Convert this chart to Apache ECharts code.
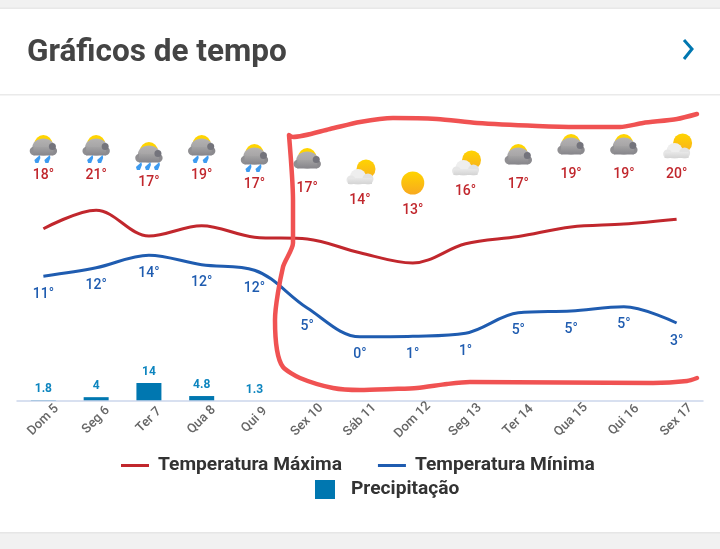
<!DOCTYPE html>
<html><head><meta charset="utf-8">
<style>html,body{margin:0;padding:0;background:#f1f1f1}#c{width:720px;height:549px}</style>
<script src="https://cdn.jsdelivr.net/npm/echarts@6/dist/echarts.min.js"></script>
</head><body><div id="c"></div>
<script>
const categories = ['Dom 5','Seg 6','Ter 7','Qua 8','Qui 9','Sex 10','Sáb 11','Dom 12','Seg 13','Ter 14','Qua 15','Qui 16','Sex 17'];
const maxLine = [18.7,21.8,17.5,19.2,17.3,17,14.7,13,16.2,17.4,19,19.5,20.3];
const minLine = [10.8,12.2,14.3,12.7,11.8,5.5,0.7,0.8,1.3,4.7,5,5.7,3];
const maxLabels = [18,21,17,19,17,17,14,13,16,17,19,19,20];
const minLabels = [11,12,14,12,12,5,0,1,1,5,5,5,3];
const precipitation = [1.8,4,14,4.8,1.3,null,null,null,null,null,null,null,null];
const iconLevel = [226,226,219,226,217,213,201,191,210,217,227,227,227];
const iconKind = ['rain2','rain2','rain3','rain2','rain2','cloud','part','sun','part','cloud','cloud','cloud','part'];
const markerX = [697,677,643,620,577,537,477,437,393,360,330,293,289,293,293,283,275,277,283,300,333,360,393,417,447,470,653,687,697];
const markerY = [114,119,123,127,127,126,123,119,118,122,129,137,135,200,243,267,320,350,367,378,388,390,389,388,384,382,383,381,378];

const AXIS = '#ccd6eb', RED = '#c1272d', BLUE = '#1f5cb0', BAR = '#0077b0';
const FONT = 'Roboto';
const grad = (a,b) => ({type:'linear',x:0,y:0,x2:0,y2:1,colorStops:[{offset:0,color:a},{offset:1,color:b}]});
const circle = (cx,cy,r,fill) => ({type:'circle',shape:{cx,cy,r},style:{fill}});

function cloud(x,y){
  return [
    {type:'ellipse',shape:{cx:x,cy:y-28,rx:11,ry:8.5},style:{fill:grad('#b4b2b2','#9a999b')}},
    circle(x-9.5,y-24,4.2,'#908f92'),
    circle(x+9.5,y-24,4.2,'#8b8a8e'),
    {type:'rect',shape:{x:x-10,y:y-28,width:20,height:8.5},style:{fill:grad('#a3a2a3','#86858a')}},
    circle(x+9,y-28.5,3.5,'#74747c')
  ];
}
function drop(x,y){
  return {type:'polygon',shape:{points:[[x+2.5,y],[x+3,y+3],[x+1,y+8],[x-2,y+8],[x-3,y+5]]},style:{fill:'#3d9bf0'}};
}
function icon(kind,x,y){
  if(kind==='sun') return [circle(x,y-27,11.5,grad('#ffd400','#f8a91f'))];
  if(kind==='part'){
    return [
      circle(x+6,y-31,9.5,grad('#ffd400','#f8b01f')),
      circle(x-2,y-23,8,'#eeeeee'),
      circle(x-9,y-20,4.5,'#e6e6e6'),
      circle(x+8,y-21,5.5,'#e2e2e2'),
      {type:'rect',shape:{x:x-12,y:y-22,width:24,height:6},style:{fill:grad('#e8e8e8','#d4d4d4')}}
    ];
  }
  const els = [circle(x,y-31,9,'#ffd400')].concat(cloud(x,y));
  if(kind==='rain2'){ els.push(drop(x-6,y-20),drop(x+4,y-20)); }
  if(kind==='rain3'){ els.push(drop(x-10,y-20),drop(x-1,y-20),drop(x+8,y-20)); }
  return els;
}

const chart = echarts.init(document.getElementById('c'),null,{renderer:'canvas'});
chart.setOption({
  animation:false,
  backgroundColor:'#f1f1f1',
  title:{text:'Gráficos de tempo',left:22,top:32,textStyle:{fontFamily:FONT,fontSize:31.5,fontWeight:'bold',color:'#444'}},
  graphic:[
    {type:'rect',silent:true,z:-10,shape:{x:0,y:9,width:720,height:523},style:{fill:'#fff'}},
    {type:'rect',silent:true,z:-9,shape:{x:0,y:94,width:720,height:1.5},style:{fill:'#eaeaea'}},
    {type:'rect',silent:true,z:-9,shape:{x:0,y:7.5,width:720,height:1.5},style:{fill:'#e8e8e8'}},
    {type:'rect',silent:true,z:-9,shape:{x:0,y:532,width:720,height:1.5},style:{fill:'#e6e6e6'}},
    {type:'polyline',silent:true,shape:{points:[[684,40],[692,49],[684,59]]},style:{stroke:BAR,lineWidth:3,fill:null}}
  ],
  legend:[
    {left:116,top:451,itemWidth:28,itemHeight:3,itemGap:36,icon:'rect',data:['Temperatura Máxima','Temperatura Mínima'],
     textStyle:{fontFamily:FONT,fontSize:19.2,fontWeight:'bold',color:'#333',padding:[0,0,0,4]},selectedMode:false},
    {left:310,top:475,itemWidth:20,itemHeight:19,icon:'rect',data:['Precipitação'],
     textStyle:{fontFamily:FONT,fontSize:19.2,fontWeight:'bold',color:'#333',padding:[8,0,0,11]},selectedMode:false}
  ],
  grid:[
    {left:17,width:686,top:101,height:300},
    {left:0,top:0,width:720,height:549}
  ],
  xAxis:[
    {type:'category',gridIndex:0,data:categories,position:'bottom',
     axisLine:{onZero:false,lineStyle:{color:AXIS,width:1.5}},
     axisTick:{alignWithLabel:true,length:13,lineStyle:{color:AXIS,width:1}},
     axisLabel:{interval:0,rotate:45,align:'center',verticalAlign:'middle',margin:19,color:'#666',fontFamily:FONT,fontSize:13,fontWeight:500},
     splitLine:{show:false},z:5},
    {type:'value',gridIndex:1,min:0,max:720,show:false}
  ],
  yAxis:[
    {type:'value',gridIndex:0,min:-10,max:40,show:false},
    {type:'value',gridIndex:0,min:1.3,max:213,show:false},
    {type:'value',gridIndex:0,min:0,max:300,show:false},
    {type:'value',gridIndex:1,min:0,max:549,inverse:true,show:false}
  ],
  series:[
    {name:'Precipitação',type:'bar',xAxisIndex:0,yAxisIndex:1,data:precipitation,barWidth:25,
     itemStyle:{color:BAR},
     label:{show:true,position:'top',distance:5,color:'#0d85bf',fontFamily:FONT,fontWeight:'bold',fontSize:12}},
    {name:'Temperatura Máxima',type:'line',xAxisIndex:0,yAxisIndex:0,data:maxLine,smooth:0.35,showSymbol:false,
     lineStyle:{color:RED,width:3},itemStyle:{color:RED}},
    {name:'Temperatura Mínima',type:'line',xAxisIndex:0,yAxisIndex:0,data:minLine,smooth:0.35,symbol:'circle',symbolSize:0,
     lineStyle:{color:BLUE,width:3},itemStyle:{color:BLUE},
     label:{show:true,position:'bottom',distance:11,color:BLUE,fontFamily:FONT,fontWeight:500,fontSize:14,
       formatter:p=>minLabels[p.dataIndex]+'°'}},
    {name:'Ícones',type:'custom',xAxisIndex:0,yAxisIndex:2,data:iconLevel.map((v,i)=>[i,v]),
     renderItem:(params,api)=>{
       const i = params.dataIndex;
       const [x,y] = api.coord([api.value(0),api.value(1)]);
       return {type:'group',children:icon(iconKind[i],x,y).concat([
         {type:'text',style:{x,y,text:maxLabels[i]+'°',fill:RED,align:'center',verticalAlign:'middle',font:'500 14px '+FONT}}
       ])};
     }},
    {name:'Anotação',type:'line',xAxisIndex:1,yAxisIndex:3,data:markerX.map((x,i)=>[x,markerY[i]]),smooth:0.25,showSymbol:false,z:10,
     lineStyle:{color:'#f05252',width:4.5,cap:'round',join:'round'},itemStyle:{color:'#f05252'}}
  ]
});
</script></body></html>
